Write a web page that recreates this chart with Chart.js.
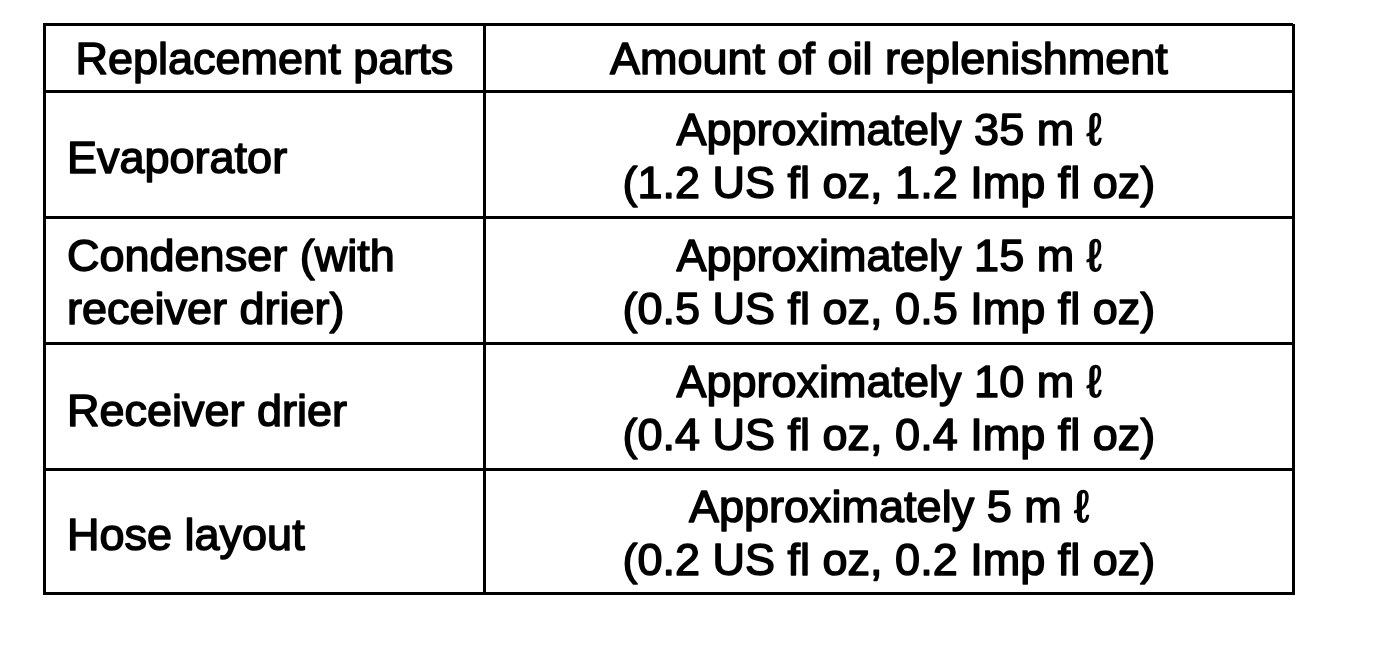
<!DOCTYPE html>
<html>
<head>
<meta charset="utf-8">
<script src="https://cdn.jsdelivr.net/npm/chart.js@4.4.1/dist/chart.umd.min.js"></script>
<style>
  html, body { margin: 0; padding: 0; background: #fff; }
  #wrap { width: 1392px; height: 660px; position: relative; }
</style>
</head>
<body>
<div id="wrap"><canvas id="c"></canvas></div>
<script>
// ---- data ----
const headers = ['Replacement parts', 'Amount of oil replenishment'];
const parts = [['Evaporator'], ['Condenser (with', 'receiver drier)'], ['Receiver drier'], ['Hose layout']];
const amountsMl = [35, 15, 10, 5];
const usFlOz = ['1.2', '0.5', '0.4', '0.2'];
const impFlOz = ['1.2', '0.5', '0.4', '0.2'];

// ---- layout (table geometry in scale units) ----
const colWidths = [440, 807];
const rowHeights = [67, 125, 126, 125, 123];

function cumulative(arr) { const out = [0]; arr.forEach(v => out.push(out[out.length - 1] + v)); return out; }
const colEdges = cumulative(colWidths);
const rowEdges = cumulative(rowHeights);

const FONT = '45px "Liberation Sans", Arial, Helvetica, sans-serif';
const LINE_GAP = 53;
const CAP = 32;

const tablePlugin = {
  id: 'tableText',
  afterDraw(chart) {
    const ctx = chart.ctx;
    const xs = chart.scales.x, ys = chart.scales.y;
    ctx.save();
    ctx.font = FONT;
    ctx.fillStyle = '#000';
    ctx.strokeStyle = '#000';
    ctx.lineWidth = 1.5;
    ctx.lineJoin = 'round';
    ctx.textBaseline = 'alphabetic';
    function drawLines(lines, x, rowIdx, align, extra) {
      const top = ys.getPixelForValue(rowEdges[rowIdx]);
      const bot = ys.getPixelForValue(rowEdges[rowIdx + 1]);
      const mid = (top + bot) / 2;
      ctx.textAlign = align;
      const n = lines.length;
      lines.forEach((t, i) => {
        const y = mid + CAP / 2 + extra + (i - (n - 1) / 2) * LINE_GAP;
        ctx.fillText(t, x, y);
        ctx.strokeText(t, x, y);
      });
    }
    const c0L = xs.getPixelForValue(colEdges[0]);
    const c0R = xs.getPixelForValue(colEdges[1]);
    const c1R = xs.getPixelForValue(colEdges[2]);
    // header
    drawLines([headers[0]], (c0L + c0R) / 2, 0, 'center', 0);
    drawLines([headers[1]], (c0R + c1R) / 2, 0, 'center', 0);
    // body
    parts.forEach((p, i) => {
      drawLines(p, c0L + 23, i + 1, 'left', p.length === 1 ? 3 : 1);
      const amt = ['Approximately ' + amountsMl[i] + ' m \u2113',
                   '(' + usFlOz[i] + ' US fl oz, ' + impFlOz[i] + ' Imp fl oz)'];
      drawLines(amt, (c0R + c1R) / 2, i + 1, 'center', 1);
    });
    ctx.restore();
  }
};

function edgeTicks(edges) {
  return function (scale) { scale.ticks = edges.map(v => ({ value: v })); };
}

const gridOpts = { color: '#000', lineWidth: 3, drawTicks: false, drawOnChartArea: true };
const borderOpts = { display: true, color: '#000', width: 3 };

new Chart(document.getElementById('c'), {
  type: 'scatter',
  data: { datasets: [{ data: [] }] },
  options: {
    responsive: true,
    maintainAspectRatio: false,
    animation: false,
    events: [],
    layout: { padding: { left: 44, top: 24, right: 99, bottom: 67 } },
    plugins: { legend: { display: false }, tooltip: { enabled: false } },
    scales: {
      x: {
        type: 'linear', min: colEdges[0], max: colEdges[colEdges.length - 1],
        afterBuildTicks: edgeTicks(colEdges),
        ticks: { display: false },
        grid: gridOpts, border: borderOpts
      },
      y: {
        type: 'linear', reverse: true, min: rowEdges[0], max: rowEdges[rowEdges.length - 1],
        afterBuildTicks: edgeTicks(rowEdges),
        ticks: { display: false },
        grid: gridOpts, border: borderOpts
      }
    }
  },
  plugins: [tablePlugin]
});
</script>
</body>
</html>
